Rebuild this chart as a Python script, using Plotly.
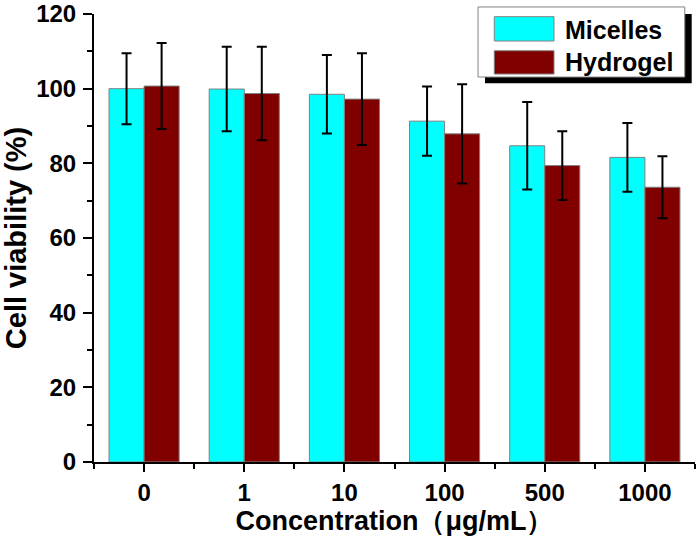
import plotly.graph_objects as go

categories = ["0", "1", "10", "100", "500", "1000"]
micelles = [100.0, 99.9, 98.5, 91.3, 84.7, 81.6]
micelles_err = [9.5, 11.3, 10.5, 9.3, 11.7, 9.2]
hydrogel = [100.7, 98.7, 97.2, 87.9, 79.4, 73.6]
hydrogel_err = [11.5, 12.5, 12.3, 13.3, 9.2, 8.3]
series_names = ["Micelles", "Hydrogel"]
series_colors = ["#00FFFF", "#800000"]

xpos = list(range(len(categories)))
FONT = "Liberation Sans, Arial, sans-serif"

fig = go.Figure()
for name, vals, errs, col in [(series_names[0], micelles, micelles_err, series_colors[0]),
                              (series_names[1], hydrogel, hydrogel_err, series_colors[1])]:
    fig.add_trace(go.Bar(
        x=xpos, y=vals, name=name,
        marker=dict(color=col, line=dict(color="#808080", width=1)),
        error_y=dict(type="data", array=errs, color="black", thickness=2, width=5),
    ))

fig.update_layout(
    width=700, height=539,
    margin=dict(l=94, r=5, t=14, b=77),
    paper_bgcolor="white", plot_bgcolor="white",
    barmode="group", bargap=0.3, bargroupgap=0,
    font=dict(family=FONT, size=24, color="black"),
    showlegend=False,
    xaxis=dict(
        range=[-0.5, 5.5], automargin=False,
        tickmode="array", tickvals=xpos, ticktext=categories,
        showline=True, linecolor="black", linewidth=2,
        ticks="outside", ticklen=8, tickwidth=2, tickcolor="black",
        minor=dict(tickmode="linear", tick0=0.5, dtick=1, ticks="outside",
                   ticklen=5, tickwidth=2, tickcolor="black"),
        showgrid=False, zeroline=False, ticklabeloverflow="allow",
        tickfont=dict(family=FONT, size=24, weight="bold"),
        title=dict(text="Concentration（μg/mL）", standoff=6,
                   font=dict(family=FONT, size=27, weight="bold")),
    ),
    yaxis=dict(
        range=[0, 120], automargin=False,
        tickmode="linear", tick0=0, dtick=20,
        showline=True, linecolor="black", linewidth=2,
        ticks="outside", ticklen=9, tickwidth=2, tickcolor="black",
        minor=dict(tickmode="linear", tick0=10, dtick=20, ticks="outside",
                   ticklen=5, tickwidth=2, tickcolor="black"),
        showgrid=False, zeroline=False, ticklabeloverflow="allow",
        ticklabelstandoff=2,
        tickfont=dict(family=FONT, size=24, weight="bold"),
        title=dict(text="Cell viability (%)", standoff=12,
                   font=dict(family=FONT, size=29, weight="bold")),
    ),
)

# Legend box with drop shadow (drawn in paper coordinates)
fig.add_shape(type="rect", xref="paper", yref="paper",
              x0=0.6506, x1=0.9945, y0=0.8452, y1=1.0000,
              fillcolor="black", line=dict(width=0), layer="above")
fig.add_shape(type="rect", xref="paper", yref="paper",
              x0=0.639, x1=0.983, y0=0.8593, y1=1.0157,
              fillcolor="white", line=dict(color="#808080", width=1), layer="above")
sw_y = [(0.9397, 0.9940), (0.866, 0.918)]
txt_y = [0.9640, 0.893]
for i in range(2):
    fig.add_shape(type="rect", xref="paper", yref="paper",
                  x0=0.666, x1=0.7654, y0=sw_y[i][0], y1=sw_y[i][1],
                  fillcolor=series_colors[i], line=dict(color="#808080", width=1), layer="above")
    fig.add_annotation(xref="paper", yref="paper", x=0.7804, y=txt_y[i],
                       xanchor="left", yanchor="middle", showarrow=False,
                       text=series_names[i],
                       font=dict(family=FONT, size=25, color="black", weight="bold"))

fig.write_html("out.html", config={"displayModeBar": False},
               post_script="document.body.style.margin='0';")
